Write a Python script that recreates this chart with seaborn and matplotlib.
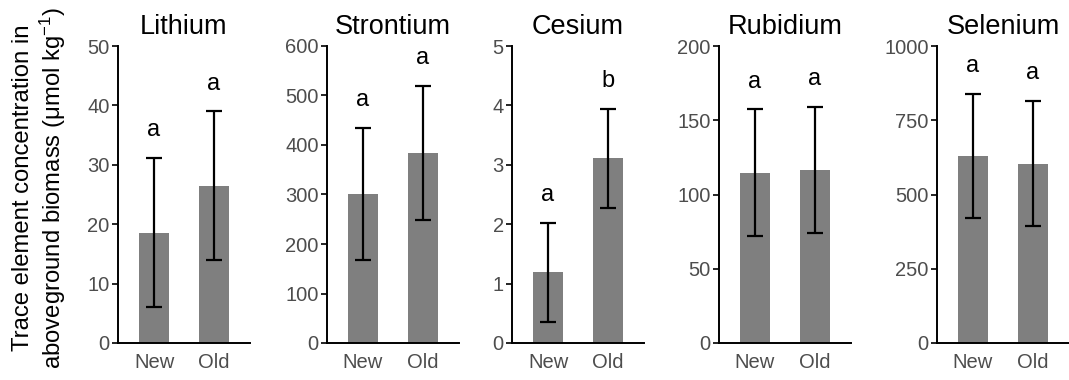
import matplotlib
matplotlib.use("Agg")
import matplotlib.pyplot as plt
import numpy as np
import pandas as pd
import seaborn as sns

# Mean concentrations and error-bar bounds per element (New, Old)
elements = ["Lithium", "Strontium", "Cesium", "Rubidium", "Selenium"]
groups = ["New", "Old"]

lithium_mean = [18.5, 26.4]
lithium_low = [6.0, 13.9]
lithium_high = [31.1, 39.0]

strontium_mean = [300, 383]
strontium_low = [167, 249]
strontium_high = [435, 519]

cesium_mean = [1.19, 3.11]
cesium_low = [0.35, 2.28]
cesium_high = [2.02, 3.94]

rubidium_mean = [114.5, 116.5]
rubidium_low = [71.8, 73.8]
rubidium_high = [157.3, 159.2]

selenium_mean = [628, 603]
selenium_low = [420, 395]
selenium_high = [838, 814]

letters = {
    "Lithium": ["a", "a"],
    "Strontium": ["a", "a"],
    "Cesium": ["a", "b"],
    "Rubidium": ["a", "a"],
    "Selenium": ["a", "a"],
}

y_max = [50, 600, 5, 200, 1000]
y_step = [10, 100, 1, 50, 250]

means = [lithium_mean, strontium_mean, cesium_mean, rubidium_mean, selenium_mean]
lows = [lithium_low, strontium_low, cesium_low, rubidium_low, selenium_low]
highs = [lithium_high, strontium_high, cesium_high, rubidium_high, selenium_high]

sns.set_theme(style="ticks")
plt.rcParams["font.family"] = ["Liberation Sans", "DejaVu Sans"]
plt.rcParams["mathtext.fontset"] = "custom"
plt.rcParams["mathtext.rm"] = "Liberation Sans"
plt.rcParams["mathtext.it"] = "Liberation Sans:italic"

W, H = 1069, 380
fig = plt.figure(figsize=(W / 100, H / 100), dpi=100)

left_px = [118, 327, 512, 719, 937]
ax_w = 132
top_px, bot_px = 46, 343

for i, el in enumerate(elements):
    ax = fig.add_axes([left_px[i] / W, 1 - bot_px / H, ax_w / W, (bot_px - top_px) / H])
    df = pd.DataFrame({"group": groups, "value": means[i]})
    sns.barplot(data=df, x="group", y="value", color="#7f7f7f", saturation=1,
                width=0.5, errorbar=None, ax=ax, linewidth=0)
    m = np.array(means[i])
    lo = np.array(lows[i])
    hi = np.array(highs[i])
    ax.errorbar([0, 1], m, yerr=[m - lo, hi - m], fmt="none", ecolor="black",
                elinewidth=1.6, capsize=6, capthick=1.6)
    for j in range(2):
        ax.annotate(letters[el][j], xy=(j, hi[j]), xytext=(0, 20),
                    textcoords="offset points", ha="center", va="center",
                    fontsize=17, color="black")
    ax.set_xlim(-0.6, 1.6)
    ax.set_ylim(0, y_max[i])
    ax.set_yticks(np.arange(0, y_max[i] + y_step[i] / 2, y_step[i]))
    ax.set_xlabel("")
    ax.set_ylabel("")
    ax.set_title(el, fontsize=19.5, pad=9, color="black")
    sns.despine(ax=ax)
    for s in ["left", "bottom"]:
        ax.spines[s].set_linewidth(1.4)
        ax.spines[s].set_color("black")
    ax.tick_params(axis="y", length=4, width=1.2, colors="black",
                   labelcolor="#4d4d4d", labelsize=14.5, pad=2)
    ax.tick_params(axis="x", length=0, labelcolor="#4d4d4d", labelsize=14.5, pad=7)
    ax.set_facecolor("white")

fig.text(40 / W, 1 - 188 / H,
         "Trace element concentration in\naboveground biomass (\u03bcmol kg$^{-1}$)",
         rotation=90, ha="center", va="center", multialignment="center",
         fontsize=17.2, linespacing=1.2, color="black")

fig.savefig("out.png", dpi=100, facecolor="white")
